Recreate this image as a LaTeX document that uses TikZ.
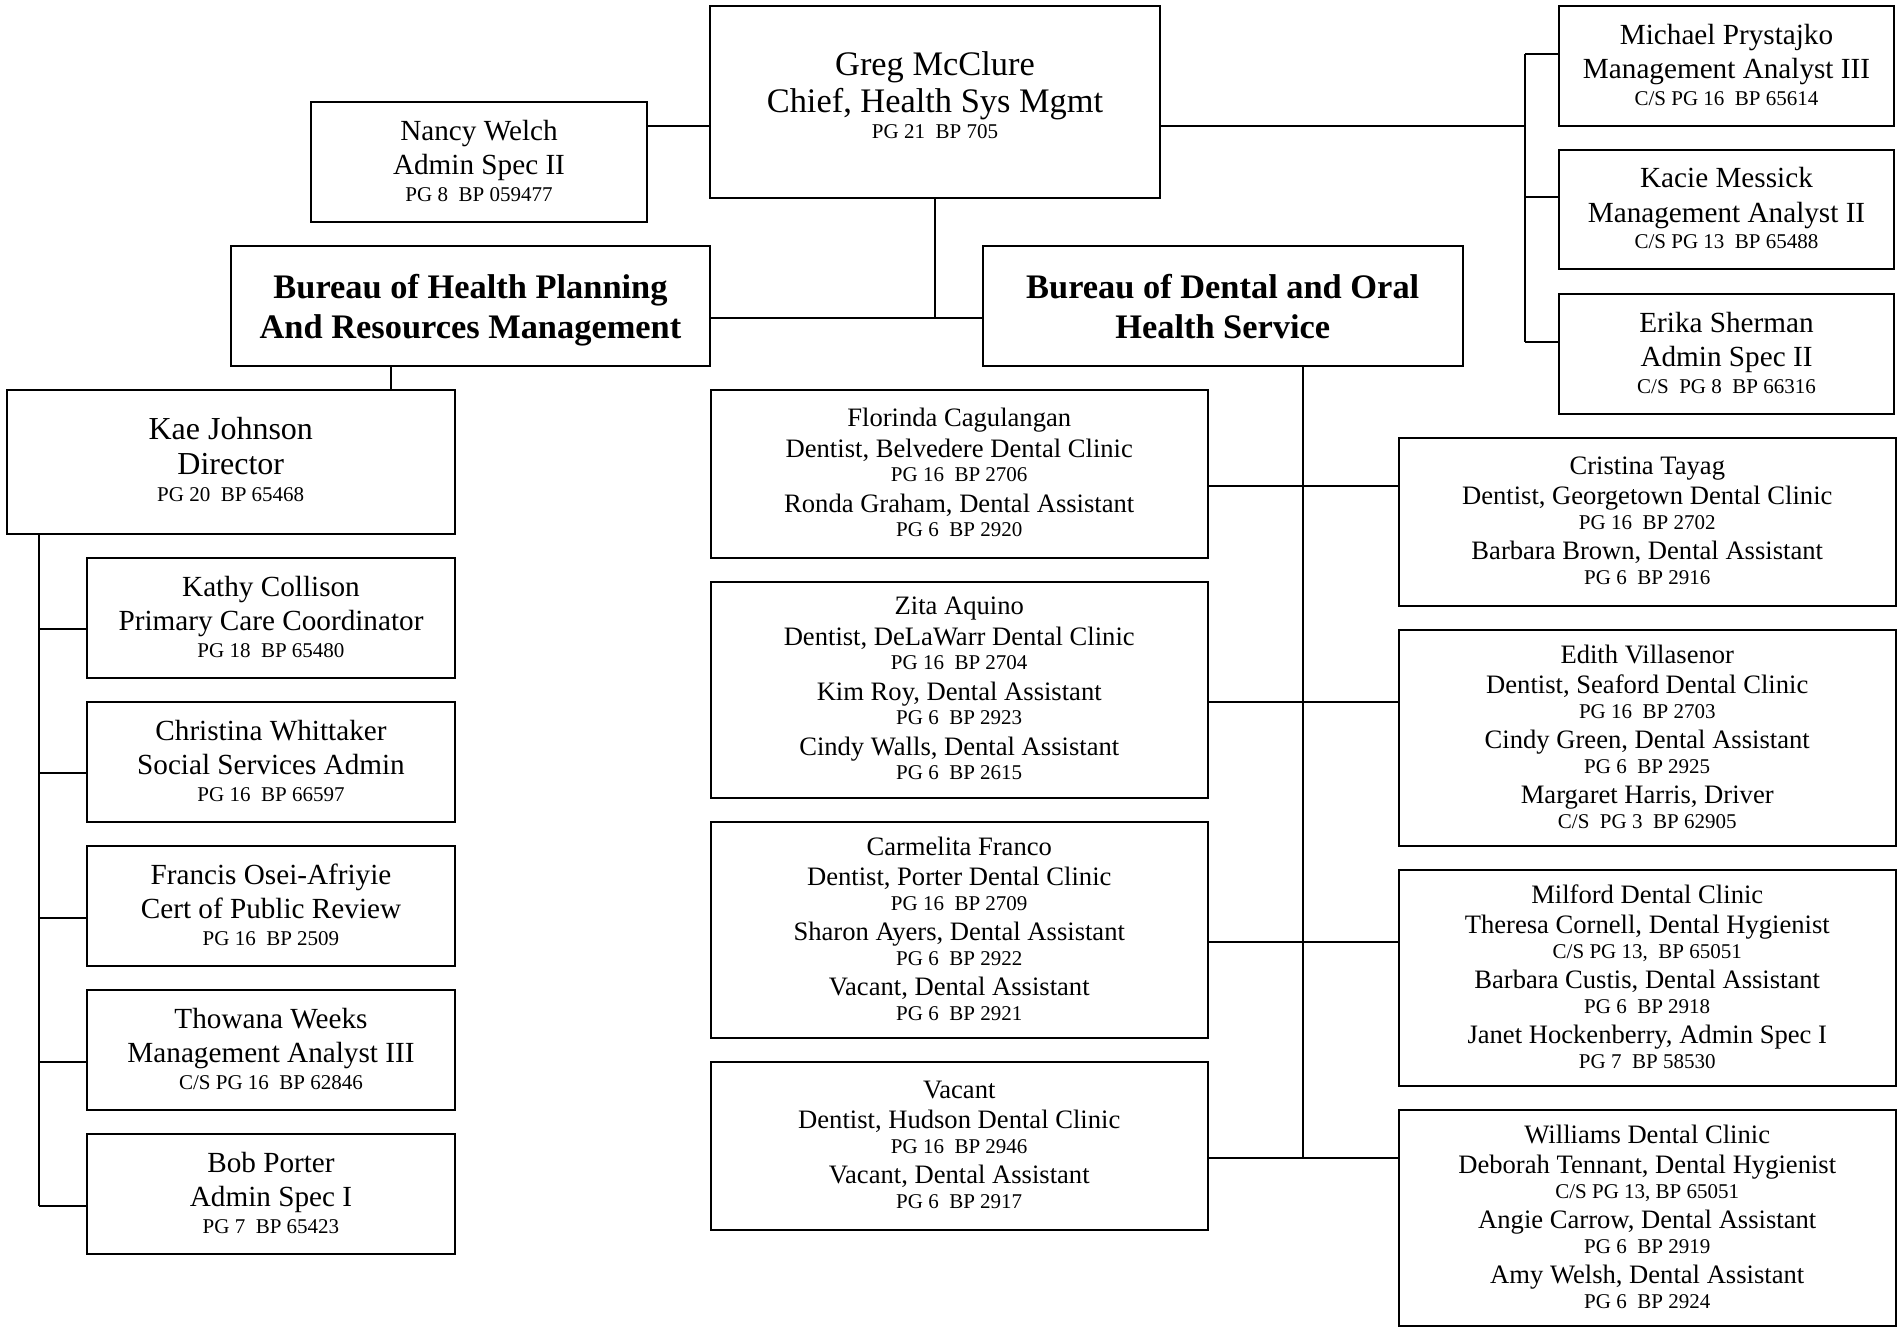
\documentclass[tikz,border=0pt]{standalone}
\usepackage{fontspec}
\setmainfont{Liberation Serif}
\usepackage{tikz}
\usetikzlibrary{positioning}
\newcommand{\pgdrop}{-4pt}
\newcommand{\pg}[1]{\\[\pgdrop]{\fontsize{10.5}{12}\selectfont #1}}
\tikzset{
  box/.style={draw=black, line width=1pt, fill=white, align=center, inner sep=0pt, text depth=1.5pt},
  chief/.style={box, text depth=7pt, font=\fontsize{17.2}{18.8}\selectfont, execute at begin node={\def\pgdrop{-5.8pt}}},
  staff/.style={box, minimum height=60pt, font=\fontsize{14.6}{17.2}\selectfont, execute at begin node={\def\pgdrop{-4pt}}},
  director/.style={box, text depth=2.5pt, font=\fontsize{16}{17.8}\selectfont, execute at begin node={\def\pgdrop{-4.4pt}}},
  bureau/.style={box, text depth=0pt, minimum width=240pt, minimum height=60pt, font=\bfseries\fontsize{17.2}{20}\selectfont},
  clinic/.style={box, minimum width=248.75pt, font=\fontsize{13.3}{15.3}\selectfont, execute at begin node={\def\pgdrop{-3.1pt}}},
  link/.style={draw=black, line width=1pt}
}

\begin{document}
\begin{tikzpicture}[x=0.5pt, y=-0.5pt]
  \path[use as bounding box, fill=white] (0,0) rectangle (1902,1331);

  % Chief and direct staff
  \node[chief, minimum width=225pt, minimum height=96pt] (greg) at (935,102)
    {Greg McClure\\Chief, Health Sys Mgmt\pg{PG 21~~BP 705}};
  \node[staff, minimum width=168pt] (nancy) at (479,162)
    {Nancy Welch\\Admin Spec II\pg{PG 8~~BP 059477}};

  % Right staff column
  \node[staff, minimum width=167.5pt] (michael) at (1726.5,66)
    {Michael Prystajko\\Management Analyst III\pg{C/S PG 16~~BP 65614}};
  \node[staff, minimum width=167.5pt, minimum height=59.5pt] (kacie) at (1726.5,209.5)
    {Kacie Messick\\Management Analyst II\pg{C/S PG 13~~BP 65488}};
  \node[staff, minimum width=167.5pt] (erika) at (1726.5,354)
    {Erika Sherman\\Admin Spec II\pg{C/S~~PG 8~~BP 66316}};

  % Bureaus
  \node[bureau, minimum width=239.5pt] (bhp) at (470.5,306)
    {Bureau of Health Planning\\And Resources Management};
  \node[bureau, minimum width=240.25pt] (bdoh) at (1222.75,306)
    {Bureau of Dental and Oral\\Health Service};

  % Health planning side
  \node[director, minimum width=224.25pt, minimum height=72pt] (kae) at (230.75,462)
    {Kae Johnson\\Director\pg{PG 20~~BP 65468}};
  \node[staff, minimum width=184pt] (kathy) at (271,618)
    {Kathy Collison\\Primary Care Coordinator\pg{PG 18~~BP 65480}};
  \node[staff, minimum width=184pt] (whittaker) at (271,762)
    {Christina Whittaker\\Social Services Admin\pg{PG 16~~BP 66597}};
  \node[staff, minimum width=184pt] (francis) at (271,906)
    {Francis Osei-Afriyie\\Cert of Public Review\pg{PG 16~~BP 2509}};
  \node[staff, minimum width=184pt] (thowana) at (271,1050)
    {Thowana Weeks\\Management Analyst III\pg{C/S PG 16~~BP 62846}};
  \node[staff, minimum width=184pt] (bob) at (271,1194)
    {Bob Porter\\Admin Spec I\pg{PG 7~~BP 65423}};

  % Dental clinics, middle column
  \node[clinic, minimum height=84pt] (florinda) at (959.25,474)
    {Florinda Cagulangan\\Dentist, Belvedere Dental Clinic\pg{PG 16~~BP 2706}\\
     Ronda Graham, Dental Assistant\pg{PG 6~~BP 2920}};
  \node[clinic, minimum height=108pt] (aquino) at (959.25,690)
    {Zita Aquino\\Dentist, DeLaWarr Dental Clinic\pg{PG 16~~BP 2704}\\
     Kim Roy, Dental Assistant\pg{PG 6~~BP 2923}\\
     Cindy Walls, Dental Assistant\pg{PG 6~~BP 2615}};
  \node[clinic, minimum height=108pt] (franco) at (959.25,930)
    {Carmelita Franco\\Dentist, Porter Dental Clinic\pg{PG 16~~BP 2709}\\
     Sharon Ayers, Dental Assistant\pg{PG 6~~BP 2922}\\
     Vacant, Dental Assistant\pg{PG 6~~BP 2921}};
  \node[clinic, minimum height=84pt] (hudson) at (959.25,1146)
    {Vacant\\Dentist, Hudson Dental Clinic\pg{PG 16~~BP 2946}\\
     Vacant, Dental Assistant\pg{PG 6~~BP 2917}};

  % Dental clinics, right column
  \node[clinic, minimum height=84pt] (tayag) at (1647.25,522)
    {Cristina Tayag\\Dentist, Georgetown Dental Clinic\pg{PG 16~~BP 2702}\\
     Barbara Brown, Dental Assistant\pg{PG 6~~BP 2916}};
  \node[clinic, minimum height=108pt] (villasenor) at (1647.25,738)
    {Edith Villasenor\\Dentist, Seaford Dental Clinic\pg{PG 16~~BP 2703}\\
     Cindy Green, Dental Assistant\pg{PG 6~~BP 2925}\\
     Margaret Harris, Driver\pg{C/S~~PG 3~~BP 62905}};
  \node[clinic, minimum height=108pt] (milford) at (1647.25,978)
    {Milford Dental Clinic\\Theresa Cornell, Dental Hygienist\pg{C/S PG 13,~~BP 65051}\\
     Barbara Custis, Dental Assistant\pg{PG 6~~BP 2918}\\
     Janet Hockenberry, Admin Spec I\pg{PG 7~~BP 58530}};
  \node[clinic, minimum height=108pt] (williams) at (1647.25,1218)
    {Williams Dental Clinic\\Deborah Tennant, Dental Hygienist\pg{C/S PG 13, BP 65051}\\
     Angie Carrow, Dental Assistant\pg{PG 6~~BP 2919}\\
     Amy Welsh, Dental Assistant\pg{PG 6~~BP 2924}};

  % Spines
  \coordinate (rspine) at ([xshift=-16.5pt]michael.west);
  \coordinate (lspine) at ([xshift=16.5pt]kae.south west);
  \coordinate (dspine) at ([xshift=40pt]bdoh.south);

  % Chief links
  \draw[link] ([yshift=-12pt]greg.west) -- ([yshift=-12pt]greg.west -| nancy.east);
  \draw[link] ([yshift=-12pt]greg.east) -- ([yshift=-12pt]greg.east -| rspine);
  \draw[link] ([yshift=6pt]michael.west -| rspine) -- ([yshift=6pt]erika.west -| rspine);
  \foreach \n in {michael,kacie,erika}
    \draw[link] ([yshift=6pt]\n.west) -- ([yshift=6pt]\n.west -| rspine);
  \draw[link] (greg.south) -- ([yshift=-6pt]greg.south |- bhp.east);
  \draw[link] ([yshift=-6pt]bhp.east) -- ([yshift=-6pt]bdoh.west);

  % Health planning links
  \draw[link] ([xshift=-39.75pt]bhp.south) -- ([xshift=-39.75pt]bhp.south |- kae.north);
  \draw[link] (lspine) -- ([yshift=-5.75pt]bob.west -| lspine);
  \foreach \n in {kathy,whittaker,francis,thowana,bob}
    \draw[link] ([yshift=-5.75pt]\n.west) -- ([yshift=-5.75pt]\n.west -| lspine);

  % Dental links
  \draw[link] (dspine) -- ([yshift=-6pt]hudson.east -| dspine);
  \foreach \a/\b in {florinda/tayag,aquino/villasenor,franco/milford,hudson/williams}
    \draw[link] ([yshift=-6pt]\a.east) -- ([yshift=-6pt]\a.east -| \b.west);
\end{tikzpicture}
\end{document}
